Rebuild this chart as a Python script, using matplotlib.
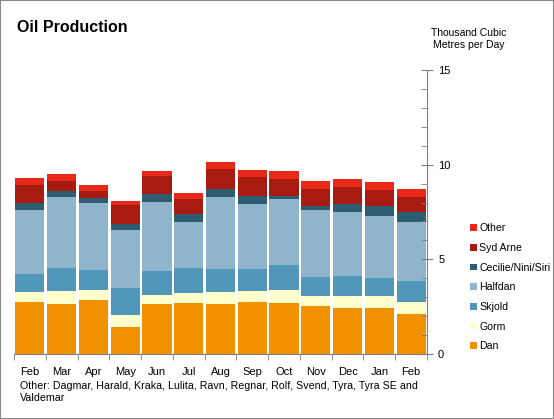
import numpy as np
import matplotlib
matplotlib.use("Agg")
import matplotlib.pyplot as plt
from matplotlib.ticker import MultipleLocator
from matplotlib.patches import Rectangle

plt.rcParams['font.family'] = ['Liberation Sans', 'DejaVu Sans']

months = ["Feb", "Mar", "Apr", "May", "Jun", "Jul", "Aug", "Sep", "Oct", "Nov", "Dec", "Jan", "Feb"]

dan     = [2.75, 2.64, 2.85, 1.43, 2.64, 2.69, 2.64, 2.75, 2.69, 2.54, 2.43, 2.43, 2.11]
gorm    = [0.53, 0.69, 0.53, 0.63, 0.48, 0.53, 0.64, 0.58, 0.69, 0.52, 0.63, 0.63, 0.64]
skjold  = [0.95, 1.21, 1.06, 1.43, 1.26, 1.32, 1.21, 1.16, 1.32, 1.01, 1.06, 0.95, 1.11]
halfdan = [3.38, 3.75, 3.54, 3.06, 3.65, 2.43, 3.80, 3.43, 3.49, 3.54, 3.38, 3.28, 3.11]
cecilie = [0.37, 0.32, 0.26, 0.32, 0.42, 0.42, 0.43, 0.43, 0.16, 0.21, 0.42, 0.53, 0.53]
syd     = [0.95, 0.53, 0.37, 1.00, 0.95, 0.80, 1.05, 1.00, 0.89, 0.90, 0.90, 0.84, 0.79]
other   = [0.37, 0.37, 0.32, 0.21, 0.27, 0.32, 0.37, 0.37, 0.43, 0.42, 0.42, 0.43, 0.43]

series = [
    ("Dan", dan, "#F29100"),
    ("Gorm", gorm, "#FFFFCC"),
    ("Skjold", skjold, "#5197BA"),
    ("Halfdan", halfdan, "#8FB4CC"),
    ("Cecilie/Nini/Siri", cecilie, "#2D5C73"),
    ("Syd Arne", syd, "#A81B10"),
    ("Other", other, "#E8291A"),
]

fig = plt.figure(figsize=(5.54, 4.19), dpi=100)
fig.patches.append(Rectangle((0, 0), 1, 1, transform=fig.transFigure, fill=False,
                             edgecolor="#888888", linewidth=1.5))

ax = fig.add_axes([14 / 554, 1 - 354 / 419, (427 - 14) / 554, (354 - 70) / 419])

x = np.arange(len(months))
bottom = np.zeros(len(months))
handles = []
for name, vals, col in series:
    b = ax.bar(x, vals, bottom=bottom, width=0.92, color=col, label=name, linewidth=0)
    handles.append(b)
    bottom += np.array(vals)

ax.set_xlim(-0.5, len(months) - 0.5)
ax.set_ylim(0, 15)

for s in ["top", "left"]:
    ax.spines[s].set_visible(False)
ax.spines["right"].set_color("#808080")
ax.spines["bottom"].set_color("#808080")

ax.yaxis.tick_right()
ax.yaxis.set_major_locator(MultipleLocator(5))
ax.yaxis.set_minor_locator(MultipleLocator(1))
ax.tick_params(axis="y", which="major", direction="inout", length=8, color="#808080",
               labelsize=8, pad=4)
ax.tick_params(axis="y", which="minor", direction="in", length=4, color="#808080")

ax.set_xticks(x)
ax.set_xticklabels(months)
ax.set_xticks(np.arange(-0.5, len(months), 1), minor=True)
ax.tick_params(axis="x", which="major", length=0, labelsize=8, pad=9)
ax.tick_params(axis="x", which="minor", direction="out", length=4, color="#808080")

fig.text(17 / 554, 1 - 28 / 419, "Oil Production", fontsize=11.5, fontweight="bold",
         va="center", ha="left")
fig.text(469 / 554, 1 - 39 / 419, "Thousand Cubic\nMetres per Day", fontsize=7.5,
         ha="center", va="center", linespacing=1.3)
fig.text(20 / 554, 1 - 392 / 419,
         "Other: Dagmar, Harald, Kraka, Lulita, Ravn, Regnar, Rolf, Svend, Tyra, Tyra SE and\nValdemar",
         fontsize=7.7, ha="left", va="center", linespacing=1.25)

leg = fig.legend(handles[::-1], [s[0] for s in series][::-1], loc="upper left",
                 bbox_to_anchor=(466 / 554, 1 - 219 / 419), frameon=False, fontsize=7.6,
                 handlelength=0.6, handleheight=0.6, handletextpad=0.25,
                 labelspacing=0.92, borderaxespad=0)

fig.savefig("out.png", dpi=100)
